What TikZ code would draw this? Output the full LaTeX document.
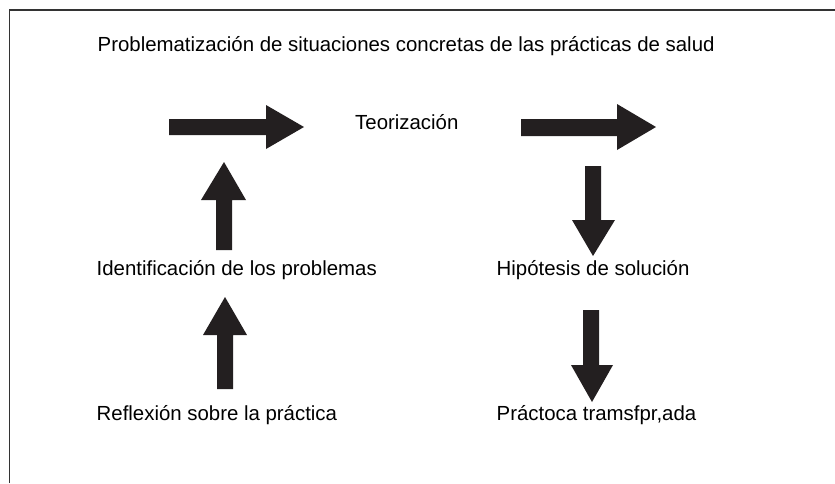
\documentclass[tikz,border=0pt]{standalone}
\usepackage{fontspec}
\setmainfont{Liberation Sans}
\definecolor{arrowfill}{RGB}{35,31,32}
\definecolor{framecol}{RGB}{51,51,51}
\begin{document}
\begin{tikzpicture}[x=1pt,y=-1pt,
  blockarrow/.style={fill=arrowfill,draw=none},
  lbl/.style={anchor=base west,inner sep=0pt,font=\fontsize{20.4}{24}\selectfont},
  framecut/.style={draw=framecol,line width=1.6pt}]
\useasboundingbox (0,0) rectangle (835,483);
% frame (left and top edges only)
\coordinate (fb) at (9.5,483);
\coordinate (ft) at (9.5,10);
\coordinate (fr) at (835,10);
\draw[framecut] (fb) -- (ft) -- (fr);
% texts
\node[lbl] (title) at (97.5,51) {Problematización de situaciones concretas de las prácticas de salud};
\node[lbl] (teor) at (355,129) {Teorización};
\node[lbl] (ident) at (96.5,275) {Identificación de los problemas};
\node[lbl] (hipo) at (496.5,275) {Hipótesis de solución};
\node[lbl] (refl) at (96.5,420) {Reflexión sobre la práctica};
\node[lbl] (pract) at (496.5,420) {Práctoca tramsfpr,ada};
% right arrows
\fill[blockarrow] (169,119) -- (266,119) -- (266,105) -- (304,127) -- (266,149) -- (266,135) -- (169,135) -- cycle;
\fill[blockarrow] (521,119) -- (617,119) -- (617,104) -- (656,127) -- (617,150) -- (617,136) -- (521,136) -- cycle;
% up arrows
\fill[blockarrow] (216,250) -- (216,200) -- (201,200) -- (224,162) -- (246,200) -- (232,200) -- (232,250) -- cycle;
\fill[blockarrow] (217,389) -- (217,335) -- (203,335) -- (225,297) -- (247,335) -- (233,335) -- (233,389) -- cycle;
% down arrows
\fill[blockarrow] (585,166) -- (601,166) -- (601,220) -- (615,220) -- (593,256) -- (572,220) -- (585,220) -- cycle;
\fill[blockarrow] (583,310) -- (599,310) -- (599,365) -- (613,365) -- (592,402) -- (571,365) -- (583,365) -- cycle;
\end{tikzpicture}
\end{document}
